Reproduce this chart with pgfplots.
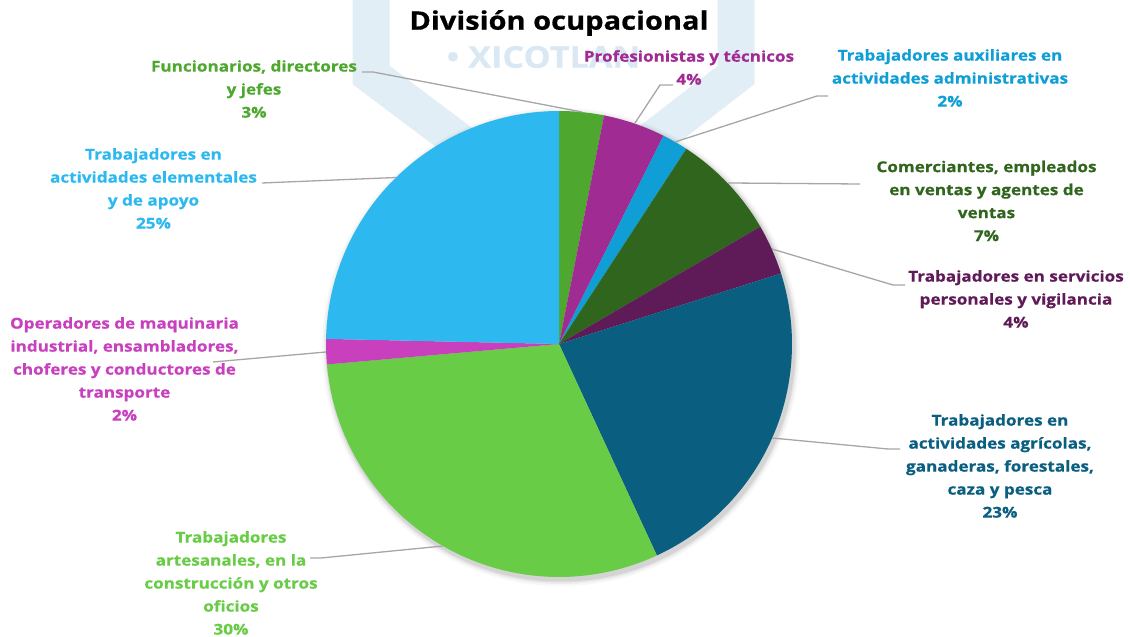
\documentclass[border=0pt]{standalone}
\usepackage{pgfplots}
\pgfplotsset{compat=1.18}
\usepackage{pgfplotstable}
\usepgfplotslibrary{polar}
\usepackage{fontspec}
\setmainfont{Open Sans}[BoldFeatures={FakeStretch=1.14, FakeBold=0.6}]

\definecolor{slice0}{HTML}{4EA72E}
\definecolor{slice1}{HTML}{A02B93}
\definecolor{slice2}{HTML}{0F9ED5}
\definecolor{slice3}{HTML}{30651E}
\definecolor{slice4}{HTML}{5F1A58}
\definecolor{slice5}{HTML}{0A5E80}
\definecolor{slice6}{HTML}{68CC46}
\definecolor{slice7}{HTML}{C840BE}
\definecolor{slice8}{HTML}{2DB9EF}
\definecolor{leader}{HTML}{A6A6A6}
\definecolor{wmark}{HTML}{E2EEF6}
\definecolor{wtext}{HTML}{D9E8F2}

% share of each occupational group, in percent, clockwise from 12 o'clock
\pgfplotstableread{
group value
Funcionarios 3.1
Profesionistas 4.3
Auxiliares 1.8
Comerciantes 7.4
Servicios 3.5
Agricolas 23.0
Artesanales 30.5
Operadores 1.75
Elementales 24.65
}\pietable

\begin{document}
\begin{tikzpicture}[x=1pt,y=1pt]
\path[use as bounding box] (0,0) rectangle (1130,637);
% watermark
\draw[wmark, line width=37pt, line join=miter] (371,660) -- (371,562) -- (480,480);
\draw[wmark, line width=37pt, line join=miter] (736,660) -- (736,562) -- (630,480);
\node[wtext, font=\bfseries\fontsize{30}{31}\selectfont, anchor=west] at (443,580) {• XICOTLAN};
% soft shadow
\foreach \r/\o in {239/0.03,237/0.04,235.5/0.05,234.5/0.06}{
  \fill[black, opacity=\o] (561,290) circle (\r);
}
\begin{polaraxis}[
  at={(559pt,293pt)}, anchor=origin,
  width=466pt, height=466pt, scale only axis,
  hide axis, ymin=0, ymax=1, xmin=0, xmax=360, clip=false]
\pgfmathsetmacro\cum{0}
\pgfplotsforeachungrouped \i in {0,...,8}{
  \pgfplotstablegetelem{\i}{value}\of\pietable
  \pgfmathsetmacro\a{90-3.6*\cum}
  \pgfmathsetmacro\cum{\cum+\pgfplotsretval}
  \pgfmathsetmacro\b{90-3.6*\cum}
  \edef\temp{\noexpand\addplot[draw=none, fill=slice\i, domain=\b:\a, samples=80] {1} -- (axis cs:0,0) -- cycle;}
  \temp
}
\end{polaraxis}
% leader lines
\begin{scope}[leader, line width=1.3pt]
\draw (362,565) -- (373,565) -- (582,525);
\draw (673,552) -- (660,552) -- (635,514);
\draw (828,541) -- (817,541) -- (675,495);
\draw (860,453) -- (728,454);
\draw (905,352) -- (893,352) -- (772,388);
\draw (900,188) -- (888,188) -- (772,199);
\draw (310,79) -- (321,79) -- (443,91);
\draw (213,275) -- (326,285);
\draw (262,454) -- (396,459.5);
\end{scope}
% title
\node[font=\bfseries\fontsize{25.5}{28}\selectfont] at (559,614) {División ocupacional};
% labels
\tikzset{lab/.style={align=center, font=\bfseries\fontsize{15}{23}\selectfont}}
\node[lab, text=slice0] at (254,548) {Funcionarios, directores\\y jefes\\3\%};
\node[lab, text=slice1] at (689,569.5) {Profesionistas y técnicos\\4\%};
\node[lab, text=slice2] at (950,559) {Trabajadores auxiliares en\\actividades administrativas\\2\%};
\node[lab, text=slice3] at (986.5,436) {Comerciantes, empleados\\en ventas y agentes de\\ventas\\7\%};
\node[lab, text=slice4] at (1016,338) {Trabajadores en servicios\\personales y vigilancia\\4\%};
\node[lab, text=slice5] at (1000,171) {Trabajadores en\\actividades agrícolas,\\ganaderas, forestales,\\caza y pesca\\23\%};
\node[lab, text=slice6] at (231,54) {Trabajadores\\artesanales, en la\\construcción y otros\\oficios\\30\%};
\node[lab, text=slice7] at (124.5,268) {Operadores de maquinaria\\industrial, ensambladores,\\choferes y conductores de\\transporte\\2\%};
\node[lab, text=slice8] at (153.5,448.5) {Trabajadores en\\actividades elementales\\y de apoyo\\25\%};
\end{tikzpicture}
\end{document}
